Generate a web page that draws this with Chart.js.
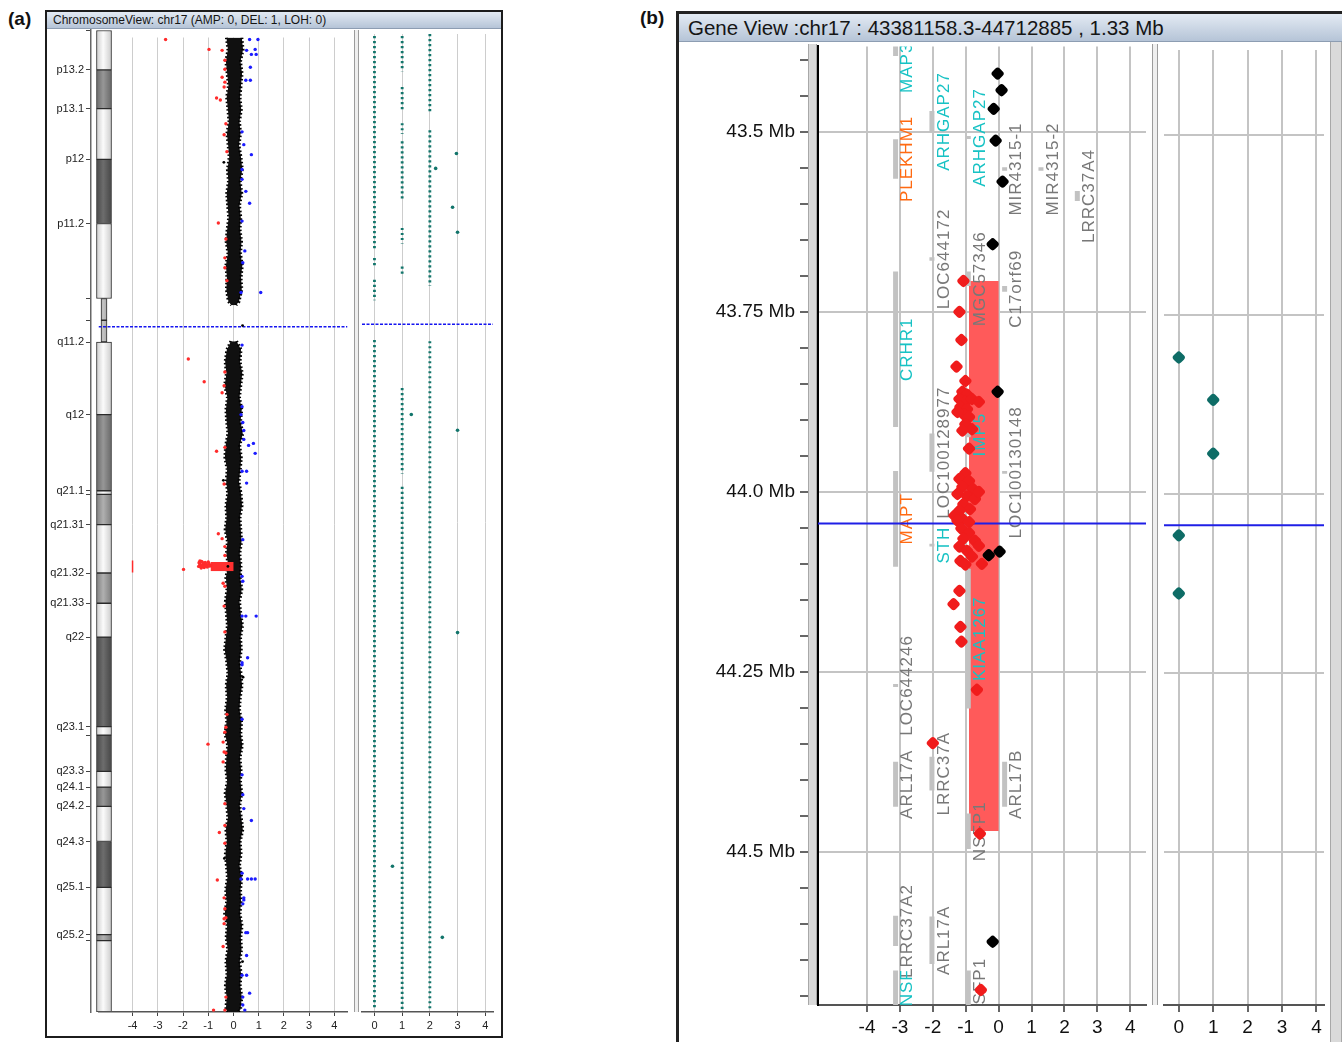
<!DOCTYPE html>
<html>
<head>
<meta charset="utf-8">
<title>chr17 chromosome view / gene view</title>
<script src="https://cdn.jsdelivr.net/npm/chart.js@4.4.1/dist/chart.umd.min.js"></script>
<style>
  html, body { margin: 0; padding: 0; background: #fff; }
  body { position: relative; width: 1342px; height: 1042px; overflow: hidden;
         font-family: "Liberation Sans", Arial, sans-serif; }
  .box { position: absolute; }
  .tag { position: absolute; font-weight: bold; font-size: 19px; color: #111; }
  .frame { position: absolute; box-sizing: border-box; background: #fff; }
  .titlebar { position: absolute; box-sizing: border-box; white-space: nowrap; color: #151515;
              background: linear-gradient(#e3eaf3, #b5c4d7); border-bottom: 1px solid #8d9db2; }
  .sep { position: absolute; box-sizing: border-box; background: #efefef;
         border-left: 1px solid #9c9c9c; border-right: 1px solid #9c9c9c; }
  .strip { position: absolute; box-sizing: border-box; background: #dadada;
           border-left: 1px solid #a8a8a8; border-right: 1px solid #a8a8a8; }
</style>
</head>
<body>

<!-- ================= (a) chromosome view ================= -->
<div class="tag" style="left:8px;top:8px">(a)</div>
<div class="frame" style="left:45px;top:10px;width:458px;height:1028px;border:2px solid #1c1c1c"></div>
<div class="box" style="left:47px;top:20px;width:70px;height:1002px"><canvas id="ideo"></canvas></div>
<div class="box" style="left:91px;top:30px;width:264px;height:1006px"><canvas id="lrA"></canvas></div>
<div class="sep" style="left:354px;top:30px;width:5px;height:982px"></div>
<div class="box" style="left:358px;top:30px;width:139px;height:1006px"><canvas id="gtA"></canvas></div>
<div class="titlebar" style="left:47px;top:12px;width:454px;height:17px;font-size:12px;line-height:16px;padding-left:6px">ChromosomeView: chr17 (AMP: 0, DEL: 1, LOH: 0)</div>

<!-- ================= (b) gene view ================= -->
<div class="tag" style="left:640px;top:7px">(b)</div>
<div class="frame" style="left:676px;top:11px;width:700px;height:1100px;border:3px solid #222"></div>
<div class="box" style="left:680px;top:30px;width:472px;height:1012px"><canvas id="geneB"></canvas></div>
<div class="sep" style="left:1152px;top:44px;width:6px;height:961px"></div>
<div class="box" style="left:1158px;top:44px;width:172px;height:998px"><canvas id="gtB"></canvas></div>
<div class="strip" style="left:808px;top:44px;width:9px;height:961px"></div>
<div class="strip" style="left:1330px;top:42px;width:12px;height:1000px"></div>
<div class="titlebar" style="left:679px;top:14px;width:663px;height:28px;font-size:20.5px;line-height:28px;padding-left:9px">Gene View :chr17 : 43381158.3-44712885 , 1.33 Mb</div>

<script>
/* ============================================================
   DATOS — panel (a): cromosoma 17 completo
============================================================ */
const CHR_LEN = 81.2;          // Mb
const CENTRO_MB = 24.1;        // linea azul (cursor) en (a)

const BAND_NAMES  = ['p13.3','p13.2','p13.1','p12','p11.2','p11.1','q11.1','q11.2','q12','q21.1','q21.2','q21.31',
                     'q21.32','q21.33','q22','q23.1','q23.2','q23.3','q24.1','q24.2','q24.3','q25.1','q25.2','q25.3'];
const BAND_START  = [0,3.3,6.5,10.7,16.0,22.2,24.0,25.8,31.8,38.1,38.4,40.9,44.9,47.4,50.2,57.6,58.3,61.3,62.6,64.2,67.1,70.9,74.8,75.3];
const BAND_END    = [3.3,6.5,10.7,16.0,22.2,24.0,25.8,31.8,38.1,38.4,40.9,44.9,47.4,50.2,57.6,58.3,61.3,62.6,64.2,67.1,70.9,74.8,75.3,81.2];
const BAND_STAIN  = ['gneg','gpos50','gneg','gpos75','gneg','acen','acen','gneg','gpos50','gneg','gpos25','gneg',
                     'gpos25','gneg','gpos75','gneg','gpos75','gneg','gpos50','gneg','gpos75','gneg','gpos25','gneg'];
const BAND_TICK_LABEL = ['','p13.2','p13.1','p12','p11.2','','','q11.2','q12','q21.1','','q21.31',
                         'q21.32','q21.33','q22','q23.1','','q23.3','q24.1','q24.2','q24.3','q25.1','q25.2',''];

const LR_TICKS = [-4,-3,-2,-1,0,1,2,3,4];
const GT_TICKS = [0,1,2,3,4];

// nube de log2 ratio (borde izq / der), brazo p y brazo q
const CLOUD_P_MB = [0,1,2,3,4,5,6,7,8,9,10,11,12,13,14,15,16,17,18,19,20,21,22,22.3];
const CLOUD_P_LO = [-0.28,-0.22,-0.3,-0.25,-0.2,-0.27,-0.22,-0.18,-0.26,-0.21,-0.17,-0.24,-0.2,-0.27,-0.23,-0.19,
                    -0.25,-0.29,-0.22,-0.3,-0.26,-0.28,-0.2,-0.08];
const CLOUD_P_HI = [0.33,0.38,0.28,0.34,0.3,0.26,0.31,0.24,0.28,0.22,0.3,0.35,0.27,0.33,0.24,0.29,
                    0.26,0.32,0.28,0.35,0.3,0.33,0.22,0.1];

const CLOUD_Q_MB = [25.3,26,27,28,29,30,31,32,33,34,35,36,37,38,39,40,41,42,43,44,45,46,47,48,49,50,51,52,53,54,
                    55,56,57,58,59,60,61,62,63,64,65,66,67,68,69,70,71,72,73,74,75,76,77,78,79,80,81,81.2];
const CLOUD_Q_LO = [-0.1,-0.26,-0.33,-0.28,-0.35,-0.24,-0.3,-0.27,-0.22,-0.31,
                    -0.34,-0.25,-0.29,-0.23,-0.3,-0.27,-0.33,-0.24,-0.28,-0.21,
                    -0.3,-0.26,-0.32,-0.28,-0.24,-0.3,-0.35,-0.27,-0.22,-0.29,
                    -0.25,-0.31,-0.27,-0.34,-0.23,-0.28,-0.3,-0.25,-0.33,-0.27,
                    -0.22,-0.3,-0.26,-0.32,-0.28,-0.24,-0.31,-0.27,-0.35,-0.25,
                    -0.29,-0.23,-0.3,-0.26,-0.32,-0.27,-0.3,-0.2];
const CLOUD_Q_HI = [0.12,0.3,0.26,0.35,0.29,0.24,0.33,0.28,0.37,0.25,
                    0.31,0.27,0.22,0.3,0.34,0.26,0.29,0.32,0.25,0.3,
                    0.27,0.33,0.24,0.29,0.36,0.28,0.31,0.25,0.3,0.34,
                    0.27,0.24,0.32,0.29,0.35,0.26,0.3,0.28,0.33,0.25,
                    0.31,0.37,0.27,0.3,0.24,0.33,0.28,0.3,0.26,0.34,
                    0.29,0.32,0.25,0.3,0.27,0.33,0.28,0.18];

// sondas fuera de la nube [log2 ratio, Mb]
const LR_RED = [[-2.69,0.17],[-0.97,0.99],[-0.45,1.07],[-0.34,1.9],[-0.34,2.65],[-0.45,3.31],[-0.34,3.72],[-0.37,4.13],
  [-0.67,5.04],[-0.52,5.21],[-0.3,7.19],[-0.37,8.1],[-0.26,9.51],[-0.6,15.46],[-0.3,16.79],[-0.34,18.36],[-0.34,19.18],
  [-0.26,20.26],[-1.79,26.79],[-1.16,28.69],[-0.34,27.87],[-0.37,29.02],[-0.45,29.6],[-0.67,34.48],[-0.34,34.15],
  [-0.37,37.21],[-0.6,41.35],[-0.45,41.76],[-0.34,42.42],[-0.34,43.16],[-1.98,44.32],[-1.38,44.07],[-0.41,45.48],
  [-0.34,45.73],[-0.37,47.38],[-0.34,49.53],[-0.26,56.4],[-0.3,57.47],[-0.34,57.88],[-1.01,58.88],[-0.41,58.71],
  [-0.37,59.54],[-0.3,59.62],[-0.41,60.36],[-0.34,63.84],[-0.34,65.66],[-0.56,66.24],[-0.34,67.14],[-0.64,70.2],
  [-0.37,71.69],[-0.34,72.6],[-0.3,73.35],[-0.37,73.43],[-0.37,73.84],[-0.41,75.74],[-0.3,79.96],[-0.79,81.04],[-0.34,81.04],
  [-1.35,43.83],[-1.27,43.66],[-1.2,43.91],[-1.12,43.74],[-1.05,43.99],[-1.31,44.07],[-0.97,43.83],[-1.16,44.16],[-0.9,43.99],
  [-1.33,43.62],[-1.24,43.7],[-1.3,43.95],[-1.18,43.8],[-1.08,43.88],[-1.22,44.1],[-1.0,43.7],[-1.14,44.02],[-1.28,44.2],
  [-1.04,44.12],[-0.95,44.05],[-1.36,43.75]];
const LR_RED_CLIPPED = [[-4,44.07]];
const LR_BLUE = [[0.64,0.17],[0.97,0.17],[0.52,1.07],[0.86,0.99],[0.71,1.41],[0.9,1.41],[0.67,2.48],[0.49,3.56],[0.67,3.56],
  [0.34,7.86],[0.41,8.93],[0.71,9.76],[0.34,11.0],[0.34,11.82],[0.49,12.82],[0.64,13.81],[0.34,15.3],[0.45,17.78],
  [0.37,18.77],[1.08,21.25],[0.3,21.25],[0.34,25.63],[0.34,30.76],[0.3,31.42],[0.37,32.08],[0.41,32.75],[0.41,33.49],
  [0.6,33.99],[0.79,33.82],[0.86,34.65],[0.34,36.14],[0.52,36.14],[0.52,37.13],[0.37,41.84],[0.34,44.9],[0.37,45.31],
  [0.34,48.21],[0.49,48.21],[0.9,48.21],[0.56,51.68],[0.34,52.09],[0.34,52.26],[0.34,56.81],[0.34,61.44],[0.37,63.09],
  [0.41,64.25],[0.71,65.24],[0.34,69.63],[0.3,70.12],[0.56,70.12],[0.71,70.12],[0.86,70.12],[0.41,71.69],[0.41,71.86],
  [0.37,72.19],[0.49,74.59],[0.56,74.59],[0.52,76.49],[0.34,78.14],[0.52,78.14],[0.64,79.63],[0.37,79.96],[0.37,80.62],[0.45,81.04]];
const LR_BLACK = [[-0.22,44.07],[-0.38,10.4],[0.36,24.0],[-0.4,36.9],[0.38,53.3],[-0.36,68.4],[0.36,77.0]];

// segmento delecionado
const DEL_START = 43.707, DEL_END = 44.471, DEL_LOG = -0.9;

// genotipo (0/1/2) — tramos continuos de puntos [Mb inicio, Mb fin]
const GT0_RUNS = [[0.17,18.0],[18.6,19.4],[20.4,22.1],[25.4,81.0]];
const GT1_RUNS = [[0.17,3.1],[4.4,6.4],[7.4,8.3],[8.9,13.8],[16.1,17.4],[19.3,20.1],[29.4,36.5],[37.6,81.0]];
const GT2_RUNS = [[0.0,6.6],[8.0,20.9],[25.5,81.0]];
const GT_STRAY = [[2.96,9.92],[2.21,11.16],[2.82,14.39],[3.0,16.46],[1.33,31.59],[3.0,32.9],[3.0,49.7],[0.65,69.1],[2.45,75.0]];

/* ============================================================
   DATOS — panel (b): region 43.38–44.71 Mb
============================================================ */
const Y_MIN_B = 43.3811583, Y_MAX_B = 44.712885;
const Y_MINOR_B = 0.05;
const Y_LABEL_TICKS_B = [43.5, 43.75, 44.0, 44.25, 44.5];
const CURSOR_MB = 44.044;

const B_BLACK = [[-0.03,43.419],[0.09,43.442],[-0.15,43.468],[-0.09,43.512],[0.12,43.569],[-0.18,43.656],
  [-0.03,43.861],[-0.3,44.088],[0.03,44.083],[-0.18,44.625]];
const B_RED = [[-1.07,43.707],[-1.19,43.75],[-1.13,43.789],[-1.28,43.826],[-1.01,43.846],
  [-1.1,43.861],[-0.96,43.865],[-1.19,43.871],[-1.01,43.875],[-0.81,43.871],[-1.16,43.882],[-0.96,43.885],[-1.07,43.892],
  [-0.9,43.896],[-1.25,43.889],[-1.01,43.906],[-0.81,43.913],[-1.1,43.915],[-0.6,43.875],[-0.9,43.94],
  [-1.01,43.974],[-1.19,43.982],[-0.9,43.985],[-1.1,43.993],[-0.78,43.996],[-1.25,44.003],[-0.96,44.006],[-0.72,44.01],
  [-1.07,44.017],[-0.87,44.024],[-1.19,44.026],[-0.6,44.0],[-1.34,44.033],[-1.1,44.0375],[-1.25,44.04],[-0.9,44.042],
  [-1.13,44.051],[-0.9,44.057],[-1.07,44.065],[-0.72,44.068],[-1.19,44.076],[-0.96,44.082],[-0.81,44.09],[-1.16,44.096],
  [-1.01,44.101],[-0.6,44.075],[-0.51,44.1],[-1.19,44.1375],[-1.37,44.156],[-1.16,44.1875],[-1.13,44.208],[-0.66,44.275],
  [-2.0,44.349],[-0.57,44.475],[-0.54,44.692]];
const B_TEAL = [[0,43.81],[1,43.869],[1,43.944],[0,44.058],[0,44.139]];

const GENE_NAMES = ['MAP3K14','ARHGAP27','PLEKHM1','ARHGAP27','MIR4315-1','MIR4315-2','LRRC37A4','LOC644172','MGC57346',
  'C17orf69','CRHR1','LOC100128977','IMP5','MAPT','LOC100130148','STH','KIAA1267','LOC644246','ARL17A','LRRC37A',
  'ARL17B','NSFP1','LRRC37A2','ARL17A','NSF','NSFP1'];
const GENE_LANE  = [0,1,0,2,3,4,5,1,2,3,0,1,2,0,3,1,2,0,0,1,3,2,0,1,0,2];
const GENE_START = [43.3405,43.471,43.51,43.5056,43.549,43.549,43.582,43.674,43.694,43.714,43.694,43.919,43.917,43.971,
  43.971,44.072,44.107,44.267,44.375,44.368,44.375,44.447,44.589,44.59,44.665,44.665];
const GENE_END   = [43.3944,43.5,43.565,43.5097,43.554,43.554,43.596,43.679,43.714,43.722,43.91,43.972,43.924,44.104,
  43.975,44.076,44.301,44.271,44.4375,44.415,44.4375,44.496,44.631,44.656,44.8,44.75];
const GENE_KIND  = ['coding','coding','disease','coding','other','other','other','other','other','other','coding','other',
  'coding','disease','other','coding','coding','other','other','other','other','other','other','other','coding','other'];

/* ============================================================
   ESTILOS
============================================================ */
const STAIN_SHADE = {
    gneg:   ['#c9c9c9', '#fbfbfb'],
    gpos25: ['#7c7c7c', '#b0b0b0'],
    gpos50: ['#666666', '#979797'],
    gpos75: ['#454545', '#6d6d6d'],
    acen:   ['#8a8a8a', '#c4c4c4']
};
const GENE_COLORS = { coding: '#17c2c4', disease: '#ff6a12', other: '#787878' };
const GRID_A = '#cdcdcd';
const GRID_B = '#c4c4c4';
const TEAL = '#12756b';

Chart.defaults.font.family = '"Liberation Sans", Arial, sans-serif';
Chart.defaults.color = '#111';
Chart.defaults.animation = false;
Chart.defaults.events = [];
Chart.defaults.plugins.legend.display = false;
Chart.defaults.plugins.tooltip.enabled = false;
Chart.defaults.maintainAspectRatio = false;

/* ============================================================
   HELPERS
============================================================ */
function toXY(list) {
    return list.map(([x, y]) => ({ x, y }));
}

function pointSet(list, color, radius, style, rotation) {
    return {
        data: toXY(list),
        showLine: false,
        pointStyle: style || 'circle',
        rotation: rotation || 0,
        pointRadius: radius,
        pointBackgroundColor: color,
        pointBorderColor: color,
        pointBorderWidth: 0,
        xAxisID: 'x', yAxisID: 'y'
    };
}

function hLine(mb, x0, x1, color, dash, width) {
    return {
        data: [{ x: x0, y: mb }, { x: x1, y: mb }],
        borderColor: color, borderWidth: width, borderDash: dash,
        pointRadius: 0, fill: false,
        xAxisID: 'x', yAxisID: 'y'
    };
}

// area vertical entre x=valor y x=0 a lo largo del eje Mb
function segmentBlock(start, end, value, color) {
    return {
        indexAxis: 'y',
        data: [{ x: value, y: start }, { x: value, y: end }],
        borderWidth: 0, pointRadius: 0,
        backgroundColor: color,
        fill: { value: 0 },
        xAxisID: 'x', yAxisID: 'y'
    };
}

// borde de la nube: trazo punteado grueso para dar textura de puntos
function cloudEdge(mbs, xs, fillNext) {
    return {
        indexAxis: 'y',
        data: mbs.map((m, i) => ({ x: xs[i], y: m })),
        borderColor: '#000', borderWidth: 3, borderDash: [1.6, 2.2],
        backgroundColor: '#101010',
        pointRadius: 0,
        fill: fillNext ? '+1' : false,
        xAxisID: 'x', yAxisID: 'y'
    };
}

function runsLine(col, runs) {
    const pts = [];
    for (const [a, b] of runs) {
        pts.push({ x: col, y: a }, { x: col, y: b }, { x: col, y: null });
    }
    return {
        data: pts,
        borderColor: TEAL, borderWidth: 2.8, borderDash: [2.2, 2.8], borderCapStyle: 'butt',
        pointRadius: 0, spanGaps: false, fill: false,
        xAxisID: 'x', yAxisID: 'y'
    };
}

function bandFill(ctx, stain) {
    const [edge, mid] = STAIN_SHADE[stain];
    const area = ctx.chart.chartArea;
    if (!area) return mid;
    const cx = (area.left + area.right) / 2;
    const g = ctx.chart.ctx.createLinearGradient(cx - 8, 0, cx + 8, 0);
    g.addColorStop(0, edge);
    g.addColorStop(0.45, mid);
    g.addColorStop(1, edge);
    return g;
}

const fixedTicks = values => scale => { scale.ticks = values.map(v => ({ value: v })); };
const isMajorB = v => Y_LABEL_TICKS_B.some(t => Math.abs(t - v) < 1e-6);

/* ============================================================
   (a) IDEOGRAMA
============================================================ */
new Chart(document.getElementById('ideo'), {
    type: 'bar',
    data: {
        labels: ['chr17'],
        datasets: BAND_NAMES.map((name, i) => ({
            label: name,
            data: [[BAND_START[i], BAND_END[i]]],
            backgroundColor: ctx => bandFill(ctx, BAND_STAIN[i]),
            borderColor: '#2a2a2a',
            borderWidth: 1,
            borderSkipped: false,
            grouped: false,
            barThickness: BAND_STAIN[i] === 'acen' ? 6 : 15
        }))
    },
    options: {
        layout: { padding: { top: 10, bottom: 10 } },
        scales: {
            x: { display: false },
            y: {
                type: 'linear', reverse: true, min: 0, max: CHR_LEN,
                afterFit: s => { s.width = 44; },
                afterBuildTicks: fixedTicks(BAND_START),
                ticks: { callback: (v, i) => BAND_TICK_LABEL[i], font: { size: 11 }, color: '#222', padding: 2, autoSkip: false },
                grid: { drawOnChartArea: false, tickLength: 5, color: '#444' },
                border: { color: '#666', width: 1.5 }
            }
        }
    }
});

/* ============================================================
   (a) LOG2 RATIO
============================================================ */
new Chart(document.getElementById('lrA'), {
    type: 'line',
    data: {
        datasets: [
            pointSet(LR_BLACK, '#000', 1.4),
            pointSet(LR_BLUE, '#1c1cff', 1.7),
            pointSet(LR_RED, '#ff2b2b', 1.7),
            { ...pointSet(LR_RED_CLIPPED, '#ff2b2b', 6, 'line', 90), pointBorderWidth: 1.5 },
            hLine(CENTRO_MB, -5.35, 4.52, '#1515f0', [3, 1.5], 1.5),
            segmentBlock(DEL_START, DEL_END, DEL_LOG, '#ff3030'),
            cloudEdge(CLOUD_Q_MB, CLOUD_Q_HI, true),
            cloudEdge(CLOUD_Q_MB, CLOUD_Q_LO, false),
            cloudEdge(CLOUD_P_MB, CLOUD_P_HI, true),
            cloudEdge(CLOUD_P_MB, CLOUD_P_LO, false)
        ]
    },
    options: {
        scales: {
            x: {
                type: 'linear', min: -5.35, max: 4.52,
                afterBuildTicks: fixedTicks(LR_TICKS),
                afterFit: s => { s.height = 24; },
                ticks: { font: { size: 11 }, color: '#222', padding: 3, autoSkip: false, maxRotation: 0 },
                grid: { color: GRID_A, tickLength: 4, tickColor: '#444' },
                border: { color: '#555', width: 1.5 }
            },
            y: { type: 'linear', display: false, reverse: true, min: 0, max: CHR_LEN }
        }
    }
});

/* ============================================================
   (a) GENOTIPO
============================================================ */
new Chart(document.getElementById('gtA'), {
    type: 'line',
    data: {
        datasets: [
            pointSet(GT_STRAY, TEAL, 1.8),
            hLine(CENTRO_MB, -0.45, 4.28, '#1515f0', [3, 1.5], 1.5),
            runsLine(0, GT0_RUNS),
            runsLine(1, GT1_RUNS),
            runsLine(2, GT2_RUNS)
        ]
    },
    options: {
        scales: {
            x: {
                type: 'linear', min: -0.45, max: 4.28,
                afterBuildTicks: fixedTicks(GT_TICKS),
                afterFit: s => { s.height = 24; },
                ticks: { font: { size: 11 }, color: '#222', padding: 3, autoSkip: false, maxRotation: 0 },
                grid: { color: GRID_A, tickLength: 4, tickColor: '#444' },
                border: { color: '#555', width: 1.5 }
            },
            y: { type: 'linear', display: false, reverse: true, min: 0, max: CHR_LEN }
        }
    }
});

/* ============================================================
   (b) GENE VIEW
============================================================ */
const geneTrack = {
    label: 'genes',
    data: GENE_NAMES.flatMap((n, i) => [
        { x: GENE_LANE[i], y: GENE_START[i] },
        { x: GENE_LANE[i], y: GENE_END[i] },
        { x: GENE_LANE[i], y: null }
    ]),
    borderColor: '#c2c2c2', borderWidth: 5, borderCapStyle: 'butt',
    pointRadius: 0, spanGaps: false, fill: false,
    xAxisID: 'lane', yAxisID: 'y'
};

const geneLabels = {
    id: 'geneLabels',
    afterDatasetDraw(chart, args) {
        if (chart.data.datasets[args.index].label !== 'genes') return;
        const { ctx, chartArea } = chart;
        const lane = chart.scales.lane;
        const y = chart.scales.y;
        ctx.save();
        ctx.beginPath();
        ctx.rect(chartArea.left, chartArea.top, chartArea.width, chartArea.height);
        ctx.clip();
        ctx.font = '17px "Liberation Sans", Arial, sans-serif';
        ctx.letterSpacing = '1px';
        ctx.textAlign = 'center';
        ctx.textBaseline = 'middle';
        GENE_NAMES.forEach((name, i) => {
            const lo = Math.max(GENE_START[i], Y_MIN_B);
            const hi = Math.min(GENE_END[i], Y_MAX_B);
            const cy = y.getPixelForValue((lo + hi) / 2);
            const cx = lane.getPixelForValue(GENE_LANE[i]) + 12;
            ctx.save();
            ctx.translate(cx, cy);
            ctx.rotate(-Math.PI / 2);
            ctx.fillStyle = GENE_COLORS[GENE_KIND[i]];
            ctx.fillText(name, 0, 0);
            ctx.restore();
        });
        ctx.restore();
    }
};

new Chart(document.getElementById('geneB'), {
    type: 'line',
    data: {
        datasets: [
            pointSet(B_RED, '#f01c1c', 6, 'rectRounded', 45),
            pointSet(B_BLACK, '#000', 6, 'rectRounded', 45),
            hLine(CURSOR_MB, -5.49, 4.48, '#1f1fe6', [], 2),
            geneTrack,
            segmentBlock(DEL_START, DEL_END, DEL_LOG, '#ff5a5a')
        ]
    },
    plugins: [geneLabels],
    options: {
        layout: { padding: { top: 14 } },
        scales: {
            x: {
                type: 'linear', min: -5.49, max: 4.48,
                afterBuildTicks: fixedTicks(LR_TICKS),
                afterFit: s => { s.height = 37; },
                ticks: { font: { size: 19 }, color: '#111', padding: 4, autoSkip: false, maxRotation: 0 },
                grid: { color: GRID_B, lineWidth: 2, tickLength: 7, tickColor: '#333', tickWidth: 1.5 },
                border: { color: '#555', width: 2 }
            },
            lane: { type: 'linear', display: false, min: -2.135, max: 6.89 },
            y: {
                type: 'linear', reverse: true, min: Y_MIN_B, max: Y_MAX_B,
                afterFit: s => { s.width = 138; },
                afterBuildTicks: s => {
                    const t = [];
                    for (let k = Math.ceil(Y_MIN_B / Y_MINOR_B); k * Y_MINOR_B <= Y_MAX_B; k++) {
                        t.push({ value: +(k * Y_MINOR_B).toFixed(2) });
                    }
                    s.ticks = t;
                },
                ticks: {
                    autoSkip: false, font: { size: 19 }, color: '#111', padding: 5,
                    callback: v => isMajorB(v) ? (Number.isInteger(v) ? v.toFixed(1) : String(v)) + ' Mb' : ''
                },
                grid: {
                    color: c => (c.tick && isMajorB(c.tick.value)) ? GRID_B : 'rgba(0,0,0,0)',
                    lineWidth: 2, tickLength: 18, tickColor: '#333', tickWidth: 1.5
                },
                border: { color: '#000', width: 2 }
            }
        }
    }
});

new Chart(document.getElementById('gtB'), {
    type: 'line',
    data: {
        datasets: [
            pointSet(B_TEAL, '#0e6c66', 6, 'rectRounded', 45),
            hLine(CURSOR_MB, -0.43, 4.22, '#1f1fe6', [], 2)
        ]
    },
    options: {
        scales: {
            x: {
                type: 'linear', min: -0.43, max: 4.22,
                afterBuildTicks: fixedTicks(GT_TICKS),
                afterFit: s => { s.height = 37; },
                ticks: { font: { size: 19 }, color: '#111', padding: 4, autoSkip: false, maxRotation: 0 },
                grid: { color: GRID_B, lineWidth: 2, tickLength: 7, tickColor: '#333', tickWidth: 1.5 },
                border: { color: '#555', width: 2 }
            },
            y: {
                type: 'linear', reverse: true, min: Y_MIN_B, max: Y_MAX_B,
                afterBuildTicks: fixedTicks(Y_LABEL_TICKS_B),
                afterFit: s => { s.width = 0; },
                ticks: { display: false },
                grid: { color: GRID_B, lineWidth: 2, drawTicks: false },
                border: { display: false }
            }
        }
    }
});
</script>
</body>
</html>
